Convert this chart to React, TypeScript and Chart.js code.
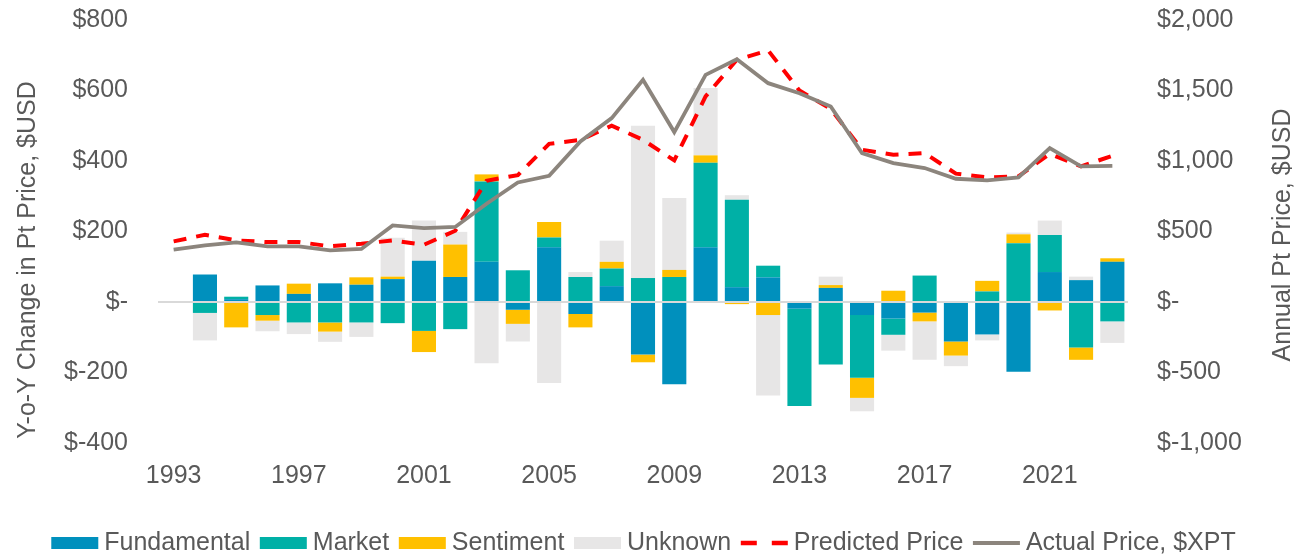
import React, { useEffect, useRef } from "react";
import { Chart, registerables } from "chart.js";

Chart.register(...registerables);

const years = [
  "1993", "1994", "1995", "1996", "1997", "1998", "1999", "2000", "2001", "2002",
  "2003", "2004", "2005", "2006", "2007", "2008", "2009", "2010", "2011", "2012",
  "2013", "2014", "2015", "2016", "2017", "2018", "2019", "2020", "2021", "2022", "2023",
];

const fundamental = [
  null, 78, 8, 47, 23, 53, 49, 65, 117, 71,
  114, -22, 155, -34, 45, -149, -233, 155, 42, 70,
  -19, 40, -37, -47, -30, -112, -92, -198, 85, 62, 114,
];
const market = [
  null, -31, 7, -37, -58, -58, -58, -60, -82, -77,
  228, 90, 28, 71, 50, 68, 71, 240, 248, 33,
  -276, -177, -178, -46, 75, 0, 30, 167, 105, -129, -55,
];
const sentiment = [
  null, 0, -72, -16, 29, -26, 21, 7, -60, 92,
  20, -40, 44, -38, 19, -22, 20, 21, -6, -37,
  0, 8, -57, 32, -25, -40, 30, 25, -24, -35, 10,
];
const unknown = [
  null, -78, 0, -30, -33, -29, -41, 110, 114, 36,
  -174, -50, -230, 14, 60, 432, 204, 191, 13, -228,
  0, 24, -38, -45, -109, -30, -17, 5, 41, 10, -61,
];
const predictedPrice = [
  430, 477, 437, 425, 425, 395, 413, 437, 406, 505,
  860, 900, 1122, 1150, 1250, 1150, 1004, 1458, 1718, 1784,
  1500, 1370, 1080, 1044, 1056, 910, 884, 891, 1051, 962, 1037,
];
const actualPrice = [
  371, 402, 423, 395, 395, 366, 376, 543, 524, 532,
  697, 848, 895, 1139, 1304, 1576, 1205, 1611, 1722, 1552,
  1481, 1387, 1056, 985, 950, 874, 862, 884, 1091, 962, 966,
];

const leftTitle = "Y-o-Y Change in Pt Price, $USD";
const rightTitle = "Annual Pt Price, $USD";

const FONT = '"Liberation Sans", Arial, sans-serif';
const TEXT = "#595959";
const C_FUND = "#0090BD";
const C_MARKET = "#00B0A6";
const C_SENT = "#FFC000";
const C_UNK = "#E7E6E6";
const C_PRED = "#FF0000";
const C_ACT = "#8C857D";

function money(v: number): string {
  if (v === 0) return "$-";
  const s = String(Math.abs(v)).replace(/\B(?=(\d{3})+(?!\d))/g, ",");
  return v < 0 ? "$-" + s : "$" + s;
}

const titlesAndLegend = {
  id: "titlesAndLegend",
  afterDraw(chart: any) {
    const ctx = chart.ctx as CanvasRenderingContext2D;
    ctx.save();
    ctx.font = "25px " + FONT;
    ctx.fillStyle = TEXT;
    ctx.textAlign = "center";
    ctx.textBaseline = "middle";
    // axis titles (both read bottom-to-top)
    ctx.save();
    ctx.translate(28, 260);
    ctx.rotate(-Math.PI / 2);
    ctx.fillText(leftTitle, 0, 0);
    ctx.restore();
    ctx.save();
    ctx.translate(1283, 235);
    ctx.rotate(-Math.PI / 2);
    ctx.fillText(rightTitle, 0, 0);
    ctx.restore();

    // legend
    const symW = 47;
    const gapT = 6;
    const gapI = 9.6;
    const ds = chart.data.datasets;
    const widths = ds.map((d: any) => symW + gapT + ctx.measureText(d.label).width);
    const total = widths.reduce((a: number, b: number) => a + b, 0) + gapI * (ds.length - 1);
    let x = (chart.width - total) / 2 - 5;
    const cy = 543;
    ctx.textAlign = "left";
    ctx.textBaseline = "alphabetic";
    ds.forEach((d: any, i: number) => {
      if (d.type === "line") {
        ctx.save();
        ctx.strokeStyle = d.borderColor;
        ctx.lineWidth = d.borderDash ? 4.5 : 4;
        ctx.setLineDash(d.borderDash ? [16, 15] : []);
        ctx.beginPath();
        ctx.moveTo(x, cy);
        ctx.lineTo(x + symW, cy);
        ctx.stroke();
        ctx.restore();
      } else {
        ctx.fillStyle = d.backgroundColor;
        ctx.fillRect(x, cy - 6, symW, 12);
      }
      ctx.fillStyle = TEXT;
      ctx.fillText(d.label, x + symW + gapT, 550);
      x += widths[i] + gapI;
    });
    ctx.restore();
  },
};

export default function App() {
  const ref = useRef<HTMLCanvasElement | null>(null);

  useEffect(() => {
    document.body.style.margin = "0";
    const canvas = ref.current;
    if (!canvas) return;
    const barCommon = {
      type: "bar" as const,
      yAxisID: "y",
      order: 2,
      barPercentage: 0.77,
      categoryPercentage: 1.0,
      borderWidth: 0,
    };
    const chart = new Chart(canvas, {
      type: "bar",
      data: {
        labels: years,
        datasets: [
          { ...barCommon, label: "Fundamental", data: fundamental, backgroundColor: C_FUND },
          { ...barCommon, label: "Market", data: market, backgroundColor: C_MARKET },
          { ...barCommon, label: "Sentiment", data: sentiment, backgroundColor: C_SENT },
          { ...barCommon, label: "Unknown", data: unknown, backgroundColor: C_UNK },
          {
            type: "line",
            label: "Predicted Price",
            data: predictedPrice,
            yAxisID: "y1",
            order: 1,
            borderColor: C_PRED,
            backgroundColor: C_PRED,
            borderWidth: 4,
            borderDash: [13, 10],
            pointRadius: 0,
            tension: 0,
            fill: false,
          },
          {
            type: "line",
            label: "Actual Price, $XPT",
            data: actualPrice,
            yAxisID: "y1",
            order: 0,
            borderColor: C_ACT,
            backgroundColor: C_ACT,
            borderWidth: 3.8,
            pointRadius: 0,
            tension: 0,
            fill: false,
          },
        ] as any,
      },
      options: {
        responsive: false,
        animation: false,
        layout: { padding: { top: 20, bottom: 54, left: 0, right: 0 } },
        plugins: { legend: { display: false }, tooltip: { enabled: false } },
        scales: {
          x: {
            stacked: true,
            grid: { display: false },
            border: { display: false },
            ticks: {
              autoSkip: false,
              maxRotation: 0,
              padding: 10,
              color: TEXT,
              font: { family: FONT, size: 25 },
              callback: (_v: any, i: number) => (i % 4 === 0 ? years[i] : ""),
            },
            afterFit: (s: any) => {
              s.height = 60;
              s.paddingLeft = 0;
              s.paddingRight = 0;
            },
          },
          y: {
            position: "left",
            stacked: true,
            min: -400,
            max: 800,
            z: 1,
            ticks: {
              stepSize: 200,
              padding: 30,
              color: TEXT,
              font: { family: FONT, size: 25 },
              callback: (v: any) => money(Number(v)),
            },
            grid: {
              drawTicks: false,
              lineWidth: 2,
              color: (c: any) => (c.tick && c.tick.value === 0 ? "#D9D9D9" : "rgba(0,0,0,0)"),
            },
            border: { display: false },
            afterFit: (s: any) => {
              s.width = 158;
              s.paddingTop = 0;
              s.paddingBottom = 0;
            },
          },
          y1: {
            position: "right",
            min: -1000,
            max: 2000,
            ticks: {
              stepSize: 500,
              padding: 29,
              color: TEXT,
              font: { family: FONT, size: 25 },
              callback: (v: any) => money(Number(v)),
            },
            grid: { display: false, drawTicks: false },
            border: { display: false },
            afterFit: (s: any) => {
              s.width = 169;
              s.paddingTop = 0;
              s.paddingBottom = 0;
            },
          },
        },
      } as any,
      plugins: [titlesAndLegend],
    });
    return () => chart.destroy();
  }, []);

  return (
    <div style={{ width: 1297, height: 557 }}>
      <canvas ref={ref} width={1297} height={557} style={{ display: "block" }} />
    </div>
  );
}
